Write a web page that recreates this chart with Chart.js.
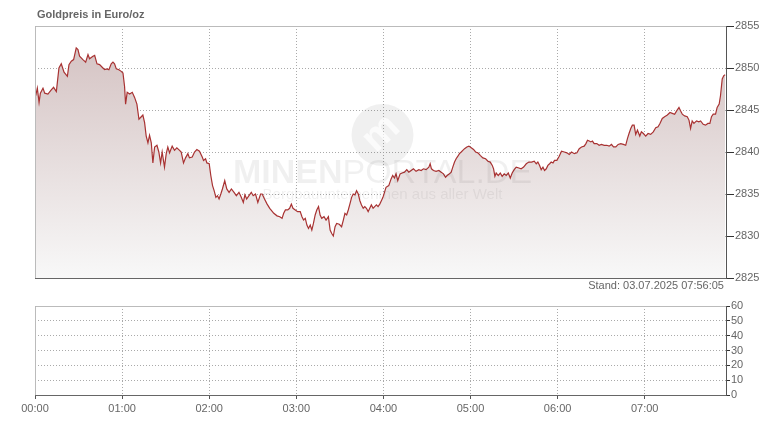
<!DOCTYPE html>
<html>
<head>
<meta charset="utf-8">
<script src="https://cdn.jsdelivr.net/npm/chart.js@4.4.1/dist/chart.umd.min.js"></script>
<style>
  body { margin: 0; background: #fff; font-family: "Liberation Sans", Arial, sans-serif; }
  #wrap { position: relative; width: 767px; height: 425px; overflow: hidden; }
  canvas { position: absolute; left: 0; }
  #title { position: absolute; left: 37px; top: 8px; font-size: 11px; line-height: 13px; font-weight: bold; color: #666; }
  #stand { position: absolute; right: 43px; top: 279px; font-size: 11px; line-height: 13px; color: #666; }
</style>
</head>
<body>
<div id="wrap">
  <canvas id="priceChart" width="767" height="290" style="top:0"></canvas>
  <canvas id="volChart" width="767" height="135" style="top:290px"></canvas>
  <div id="title"></div>
  <div id="stand"></div>
</div>
<script>
// Zeit in Minuten seit 00:00, Preis in Euro/oz
const minutes = [
  0.5, 1.6, 2.8, 3.7, 5.5, 6.7, 8.9, 11.2, 12.8, 14.7, 16.5, 18.1, 20.0, 22.3, 23.4, 25.0, 26.6, 28.4, 29.6, 30.7,
  33.0, 34.9, 36.5, 37.6, 39.9, 41.1, 42.7, 44.5, 46.8, 48.0, 49.6, 50.9, 52.5, 53.7, 54.8, 56.0, 57.8, 59.4, 60.6, 61.7,
  62.4, 63.5, 65.2, 67.0, 68.6, 70.2, 71.6, 73.2, 74.3, 75.5, 76.6, 77.8, 78.9, 80.1, 81.2, 82.4, 84.0, 85.3, 86.5, 87.6,
  89.2, 90.4, 91.5, 92.7, 94.5, 96.1, 97.7, 99.6, 100.7, 102.3, 103.7, 105.3, 106.4, 108.3, 109.9, 111.5, 113.3, 115.2, 116.1, 117.5,
  118.4, 120.0, 121.1, 122.3, 123.4, 124.6, 125.7, 126.8, 128.0, 129.1, 130.7, 132.1, 133.7, 135.3, 137.1, 138.7, 140.5, 142.1, 143.5, 144.6,
  145.8, 147.4, 149.0, 150.3, 151.9, 153.5, 155.4, 156.5, 158.1, 159.9, 161.7, 164.5, 166.7, 168.6, 170.2, 171.3, 172.5, 174.1, 175.4, 176.6,
  177.7, 179.3, 180.9, 182.7, 183.9, 185.0, 186.2, 187.3, 188.4, 189.6, 190.7, 191.8, 193.0, 194.1, 195.3, 196.4, 197.5, 199.1, 200.5, 202.1,
  203.3, 204.4, 205.5, 206.7, 207.8, 209.6, 211.2, 212.4, 213.5, 214.7, 215.8, 216.9, 218.1, 219.2, 220.4, 221.5, 222.7, 223.8, 224.9, 226.1,
  227.2, 228.3, 229.5, 230.6, 231.7, 232.9, 234.0, 235.2, 236.3, 237.5, 238.6, 239.7, 241.8, 243.7, 245.3, 246.4, 247.6, 248.7, 249.9, 251.5,
  252.9, 254.5, 256.1, 257.5, 259.1, 260.7, 262.5, 264.4, 266.0, 267.6, 269.4, 271.3, 272.2, 273.1, 274.5, 276.3, 278.2, 279.8, 281.4, 282.8,
  283.9, 285.5, 286.7, 287.8, 289.0, 290.1, 291.3, 292.4, 293.6, 294.7, 295.9, 297.5, 298.9, 300.5, 302.1, 303.5, 305.1, 306.7, 308.5, 310.4,
  312.0, 313.6, 315.0, 315.9, 316.8, 317.7, 319.1, 320.5, 321.8, 323.2, 324.6, 326.0, 327.4, 328.7, 330.1, 331.5, 333.3, 334.9, 336.6, 338.4,
  340.2, 342.1, 343.9, 345.3, 346.4, 347.6, 348.7, 349.9, 351.0, 352.2, 353.3, 354.5, 355.6, 356.8, 357.9, 359.5, 361.1, 362.7, 364.6, 366.4,
  368.0, 369.6, 371.5, 373.3, 374.9, 376.5, 378.3, 379.5, 380.6, 381.8, 382.9, 384.0, 385.2, 387.0, 388.6, 390.2, 392.1, 393.9, 395.5, 397.1,
  398.5, 400.1, 401.7, 403.5, 405.3, 406.9, 408.1, 409.2, 410.4, 411.5, 412.7, 413.8, 415.0, 416.6, 417.7, 419.1, 420.7, 422.3, 424.1, 425.9,
  427.6, 429.2, 430.5, 432.1, 433.7, 435.6, 437.4, 439.0, 440.6, 442.0, 443.6, 444.7, 445.9, 447.5, 449.3, 450.5, 451.6, 452.7, 453.9, 455.7,
  457.3, 458.5, 460.3, 461.9, 463.5, 464.9, 466.0, 467.2, 468.8, 469.9, 471.3, 472.2, 473.4, 474.5, 475.4
];
const prices = [
  2846.7, 2847.6, 2845.9, 2847.0, 2847.6, 2847.0, 2846.9, 2847.4, 2847.7, 2847.2, 2850.0, 2850.5, 2849.5, 2849.0, 2850.4, 2850.8, 2851.0, 2852.4, 2852.2, 2851.4,
  2851.0, 2850.7, 2851.6, 2851.1, 2851.4, 2851.5, 2850.5, 2850.4, 2850.0, 2849.8, 2849.9, 2849.8, 2850.5, 2850.7, 2850.5, 2849.9, 2849.8, 2849.6, 2849.4, 2847.8,
  2845.7, 2847.1, 2846.9, 2847.1, 2846.5, 2845.7, 2843.9, 2844.2, 2844.4, 2843.5, 2841.9, 2841.1, 2842.0, 2841.1, 2838.7, 2840.6, 2840.8, 2840.0, 2838.7, 2840.0,
  2838.2, 2839.8, 2840.6, 2839.9, 2840.7, 2840.2, 2840.5, 2840.2, 2840.0, 2838.7, 2839.3, 2839.8, 2839.3, 2839.4, 2840.0, 2840.3, 2840.1, 2839.4, 2839.0, 2839.2,
  2838.7, 2838.6, 2837.2, 2836.0, 2835.4, 2834.6, 2834.8, 2834.4, 2835.0, 2835.6, 2836.6, 2835.6, 2835.2, 2835.6, 2835.2, 2834.8, 2835.2, 2834.6, 2834.0, 2834.9,
  2834.4, 2834.8, 2835.2, 2834.8, 2835.0, 2834.0, 2835.0, 2835.0, 2834.4, 2833.8, 2833.3, 2832.7, 2832.4, 2832.3, 2832.1, 2832.7, 2833.1, 2833.1, 2833.3, 2833.8,
  2833.3, 2833.1, 2832.9, 2832.9, 2832.3, 2831.9, 2832.1, 2831.3, 2830.9, 2831.3, 2830.7, 2831.5, 2832.5, 2833.1, 2833.5, 2832.5, 2832.1, 2832.3, 2831.9, 2832.3,
  2830.7, 2830.3, 2830.0, 2831.1, 2831.5, 2831.4, 2831.1, 2831.9, 2832.7, 2832.5, 2833.1, 2833.8, 2834.6, 2835.0, 2834.9, 2835.4, 2835.0, 2834.2, 2833.7, 2833.3,
  2833.5, 2833.3, 2832.9, 2833.3, 2833.7, 2833.3, 2833.5, 2833.7, 2833.5, 2833.8, 2834.2, 2834.6, 2835.8, 2836.0, 2836.8, 2837.2, 2836.9, 2837.4, 2836.6, 2837.4,
  2837.5, 2837.6, 2837.9, 2837.6, 2837.8, 2838.0, 2837.7, 2837.9, 2837.8, 2838.0, 2837.9, 2838.2, 2838.6, 2838.0, 2837.8, 2837.7, 2837.8, 2837.6, 2837.4, 2837.0,
  2837.2, 2837.4, 2837.6, 2838.2, 2838.8, 2839.2, 2839.5, 2839.8, 2840.0, 2840.2, 2840.4, 2840.6, 2840.7, 2840.5, 2840.3, 2840.0, 2839.9, 2839.6, 2839.3, 2839.2,
  2838.9, 2838.8, 2838.4, 2838.0, 2837.1, 2837.5, 2837.2, 2837.5, 2837.1, 2837.4, 2837.2, 2837.5, 2836.9, 2837.5, 2837.9, 2838.2, 2838.1, 2838.0, 2838.2, 2838.6,
  2838.8, 2838.8, 2838.9, 2838.6, 2838.8, 2838.4, 2837.9, 2838.2, 2837.8, 2838.0, 2838.4, 2838.6, 2838.8, 2838.7, 2839.0, 2839.0, 2839.5, 2840.1, 2840.0, 2839.9,
  2839.7, 2840.0, 2839.8, 2839.9, 2840.4, 2840.6, 2840.7, 2841.0, 2841.4, 2841.3, 2841.2, 2841.3, 2841.0, 2841.0, 2840.8, 2840.9, 2840.8, 2840.8, 2840.7, 2840.9,
  2840.6, 2840.6, 2840.9, 2841.0, 2840.9, 2840.8, 2841.6, 2842.2, 2842.8, 2843.2, 2843.2, 2842.1, 2842.6, 2841.9, 2842.4, 2842.2, 2841.9, 2842.2, 2842.1, 2842.4,
  2842.9, 2843.0, 2843.4, 2844.0, 2844.2, 2844.4, 2844.7, 2844.6, 2844.5, 2844.9, 2845.3, 2844.9, 2844.5, 2844.3, 2844.2, 2843.8, 2842.8, 2843.7, 2843.4, 2843.7,
  2843.6, 2843.7, 2843.3, 2843.2, 2843.4, 2843.4, 2844.2, 2844.5, 2844.5, 2845.3, 2845.7, 2846.7, 2848.7, 2849.1, 2849.2
];
const volumes = [];   // keine Umsätze angezeigt
const hourLabels = ['00:00', '01:00', '02:00', '03:00', '04:00', '05:00', '06:00', '07:00'];
const priceTicks = [2825, 2830, 2835, 2840, 2845, 2850, 2855];
const volumeTicks = [0, 10, 20, 30, 40, 50, 60];
const titleText = 'Goldpreis in Euro/oz';
const standText = 'Stand: 03.07.2025 07:56:05';

document.getElementById('title').textContent = titleText;
document.getElementById('stand').textContent = standText;

const FONT = { family: '"Liberation Sans", Arial, sans-serif', size: 11 };
const GRID = '#aaa';

function hourAxis(showLabels) {
  return {
    type: 'linear', min: 0, max: 476, offset: false,
    afterBuildTicks: s => { s.ticks = hourLabels.map((l, i) => ({ value: i * 60 })); },
    grid: { color: GRID, offset: false, drawTicks: showLabels, tickLength: 4, tickColor: '#555' },
    border: { color: '#666', dash: [1, 2] },
    ticks: {
      display: showLabels, color: '#666', font: FONT, padding: 3,
      maxRotation: 0, autoSkip: false, callback: v => hourLabels[Math.round(v / 60)]
    },
    afterFit: s => { s.height = showLabels ? 30 : 0; }
  };
}

function valueAxis(tickValues, tickLength) {
  return {
    position: 'right',
    min: tickValues[0], max: tickValues[tickValues.length - 1],
    afterBuildTicks: s => { s.ticks = tickValues.map(v => ({ value: v })); },
    grid: { color: GRID, tickLength: tickLength, tickColor: '#333' },
    border: { color: '#555', dash: [1, 2] },
    ticks: { color: '#666', font: FONT, padding: 1, autoSkip: false, callback: v => String(v) },
    afterFit: s => { s.width = 41; }
  };
}

// obere + linke Rahmenlinie
const frame = {
  id: 'frame',
  afterDraw(chart) {
    const { ctx, chartArea: a } = chart;
    ctx.save();
    ctx.strokeStyle = '#bbb';
    ctx.lineWidth = 1;
    ctx.beginPath();
    ctx.moveTo(a.left + 0.5, a.bottom);
    ctx.lineTo(a.left + 0.5, a.top + 0.5);
    ctx.lineTo(a.right, a.top + 0.5);
    ctx.stroke();
    ctx.restore();
  }
};

// Wasserzeichen (halbtransparent über der Fläche)
const watermark = {
  id: 'watermark',
  afterDatasetsDraw(chart) {
    const { ctx, chartArea: a } = chart;
    const cx = (a.left + a.right) / 2 + 2;
    const cy = a.top + 109;
    ctx.save();
    ctx.fillStyle = 'rgba(0,0,0,0.06)';
    ctx.beginPath();
    ctx.arc(cx, cy, 31, 0, Math.PI * 2);
    ctx.fill();
    ctx.translate(cx, cy);
    ctx.rotate(-0.75);
    ctx.fillStyle = 'rgba(255,255,255,0.7)';
    ctx.font = 'bold 40px "Liberation Sans"';
    ctx.textAlign = 'center';
    ctx.textBaseline = 'middle';
    ctx.fillText('m', 0, -2);
    ctx.restore();

    ctx.save();
    ctx.fillStyle = 'rgba(0,0,0,0.06)';
    ctx.textBaseline = 'alphabetic';
    ctx.font = 'bold 34px "Liberation Sans"';
    const w1 = ctx.measureText('MINEN').width;
    ctx.font = '34px "Liberation Sans"';
    const w2 = ctx.measureText('PORTAL.DE').width;
    const x = cx - (w1 + w2) / 2;
    ctx.font = 'bold 34px "Liberation Sans"';
    ctx.fillText('MINEN', x, cy + 48);
    ctx.font = '34px "Liberation Sans"';
    ctx.fillText('PORTAL.DE', x + w1, cy + 48);
    ctx.font = '15px "Liberation Sans"';
    ctx.textAlign = 'center';
    ctx.fillText('Bergbauunternehmen aus aller Welt', cx, cy + 64);
    ctx.restore();
  }
};

new Chart(document.getElementById('priceChart'), {
  type: 'line',
  data: {
    datasets: [{
      data: minutes.map((m, i) => ({ x: m, y: prices[i] })),
      borderColor: '#a83232',
      borderWidth: 1.2,
      pointRadius: 0,
      tension: 0,
      fill: 'start',
      backgroundColor: ctx => {
        const a = ctx.chart.chartArea;
        if (!a) return '#e2d6d6';
        const g = ctx.chart.ctx.createLinearGradient(0, a.top, 0, a.bottom);
        g.addColorStop(0, '#d2bfbf');
        g.addColorStop(1, '#f8f8f8');
        return g;
      }
    }]
  },
  options: {
    responsive: false,
    animation: false,
    layout: { padding: { left: 35, top: 26, right: 0, bottom: 12 } },
    plugins: { legend: { display: false }, tooltip: { enabled: false } },
    scales: { x: hourAxis(false), y: valueAxis(priceTicks, 8) }
  },
  plugins: [watermark, frame]
});

new Chart(document.getElementById('volChart'), {
  type: 'bar',
  data: { datasets: [{ data: volumes, backgroundColor: '#a83232' }] },
  options: {
    responsive: false,
    animation: false,
    layout: { padding: { left: 35, top: 16, right: 0, bottom: 0 } },
    plugins: { legend: { display: false }, tooltip: { enabled: false } },
    scales: { x: hourAxis(true), y: valueAxis(volumeTicks, 4) }
  },
  plugins: [frame]
});
</script>
</body>
</html>
